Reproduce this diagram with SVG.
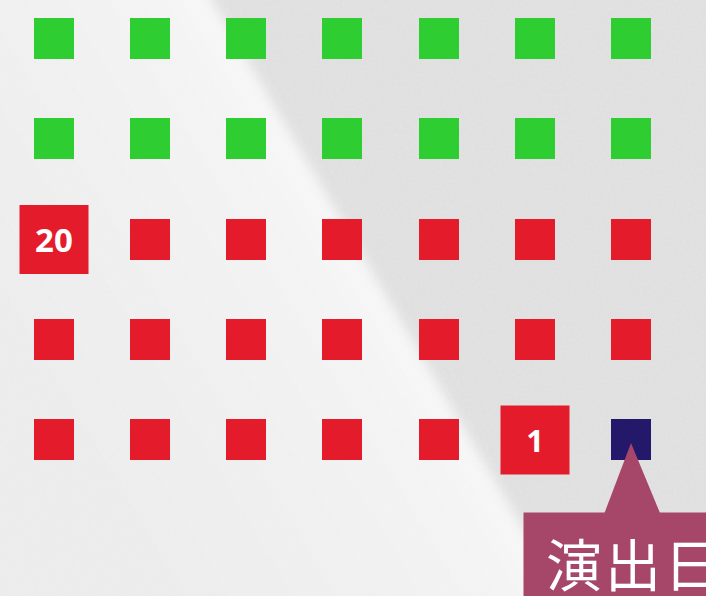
<svg xmlns="http://www.w3.org/2000/svg" width="706" height="596" viewBox="0 0 706 596">
<defs>
<style>
.g{fill:#2ecd32}
.r{fill:#e41b2a}
.n{fill:#23186a}
.lbl{fill:#fff;font-family:"Noto Sans","DejaVu Sans",sans-serif;font-weight:bold;text-anchor:middle}
.cjk{fill:#fff;font-family:"Noto Sans CJK JP","Noto Sans CJK SC",sans-serif;font-size:56px}
</style>
<linearGradient id="bg" gradientUnits="userSpaceOnUse" x1="0" y1="300" x2="420" y2="50">
<stop offset="0" stop-color="#ececec"/>
<stop offset="0.6" stop-color="#f4f4f4"/>
<stop offset="0.9" stop-color="#ffffff"/>
<stop offset="1" stop-color="#ffffff"/>
</linearGradient>
<filter id="soft" x="-10%" y="-10%" width="120%" height="120%">
<feGaussianBlur stdDeviation="6"/>
</filter>
<filter id="noise" x="0" y="0" width="100%" height="100%">
<feTurbulence type="fractalNoise" baseFrequency="0.35" numOctaves="2" seed="3"/>
<feColorMatrix type="matrix" values="0 0 0 0 1  0 0 0 0 1  0 0 0 0 1  0 0 0 -1.4 0.75"/>
</filter>
</defs>
<rect width="706" height="596" fill="#e0e0e0"/>
<g filter="url(#soft)">
<polygon points="-20,-20 200,-20 565,600 640,620 -20,620" fill="url(#bg)"/>
</g>
<rect width="706" height="596" filter="url(#noise)" opacity="0.18"/>

<g id="row1">
<rect class="g" x="34" y="18" width="40" height="41"/>
<rect class="g" x="130" y="18" width="40" height="41"/>
<rect class="g" x="226" y="18" width="40" height="41"/>
<rect class="g" x="322" y="18" width="40" height="41"/>
<rect class="g" x="419" y="18" width="40" height="41"/>
<rect class="g" x="515" y="18" width="40" height="41"/>
<rect class="g" x="611" y="18" width="40" height="41"/>
</g>
<g id="row2">
<rect class="g" x="34" y="118" width="40" height="41"/>
<rect class="g" x="130" y="118" width="40" height="41"/>
<rect class="g" x="226" y="118" width="40" height="41"/>
<rect class="g" x="322" y="118" width="40" height="41"/>
<rect class="g" x="419" y="118" width="40" height="41"/>
<rect class="g" x="515" y="118" width="40" height="41"/>
<rect class="g" x="611" y="118" width="40" height="41"/>
</g>
<g id="row3">
<g id="day20">
<rect class="r" x="19.5" y="205" width="69" height="69"/>
<text class="lbl" x="54" y="252" font-size="33">20</text>
</g>
<rect class="r" x="130" y="219" width="40" height="41"/>
<rect class="r" x="226" y="219" width="40" height="41"/>
<rect class="r" x="322" y="219" width="40" height="41"/>
<rect class="r" x="419" y="219" width="40" height="41"/>
<rect class="r" x="515" y="219" width="40" height="41"/>
<rect class="r" x="611" y="219" width="40" height="41"/>
</g>
<g id="row4">
<rect class="r" x="34" y="319" width="40" height="41"/>
<rect class="r" x="130" y="319" width="40" height="41"/>
<rect class="r" x="226" y="319" width="40" height="41"/>
<rect class="r" x="322" y="319" width="40" height="41"/>
<rect class="r" x="419" y="319" width="40" height="41"/>
<rect class="r" x="515" y="319" width="40" height="41"/>
<rect class="r" x="611" y="319" width="40" height="41"/>
</g>
<g id="row5">
<rect class="r" x="34" y="419" width="40" height="41"/>
<rect class="r" x="130" y="419" width="40" height="41"/>
<rect class="r" x="226" y="419" width="40" height="41"/>
<rect class="r" x="322" y="419" width="40" height="41"/>
<rect class="r" x="419" y="419" width="40" height="41"/>
<g id="day1">
<rect class="r" x="500.5" y="405.5" width="69" height="69"/>
<text class="lbl" x="535" y="452" font-size="31">1</text>
</g>
<rect id="performance-day" class="n" x="611" y="419" width="40" height="41"/>
</g>
<g id="callout">
<path d="M604.5,513 L631,443 L660,513 Z" fill="#a64668"/>
<rect x="523.5" y="512.5" width="200" height="90" fill="#a64668"/>
<text class="cjk" x="546" y="586" letter-spacing="3">演出日</text>
</g>
</svg>
